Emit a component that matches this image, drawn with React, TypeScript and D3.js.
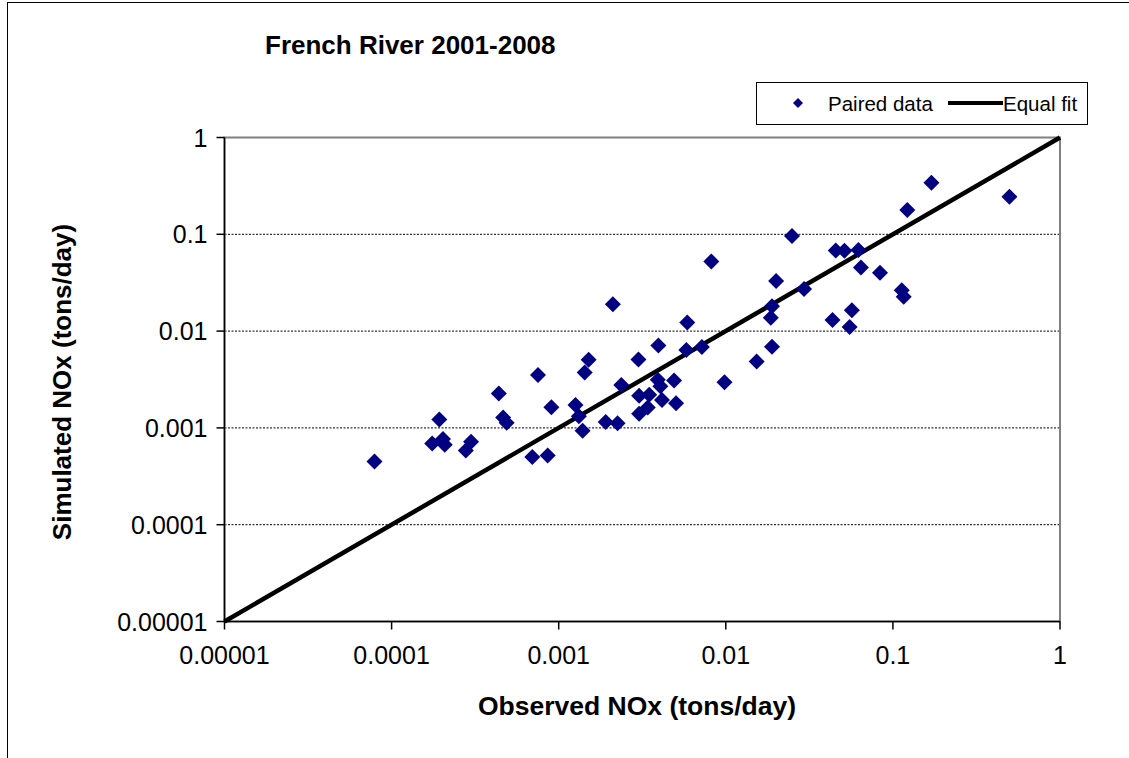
import * as d3 from 'd3'

const observed = [
  7.9e-5, 1.93e-4, 1.75e-4, 2.03e-4, 2.08e-4, 2.78e-4, 2.99e-4, 4.38e-4, 4.65e-4, 4.88e-4,
  7.52e-4, 9.04e-4, 6.95e-4, 8.59e-4, 2.11e-3, 5.88e-3, 1.51e-3, 1.43e-3, 3.0e-3, 3.95e-3,
  5.81e-3, 7.19e-3, 1.53e-2, 2.37e-3, 3.92e-3, 4.06e-3, 4.9e-3, 9.82e-3, 1.26e-3, 1.32e-3,
  1.39e-3, 3.03e-3, 3.48e-3, 3.41e-3, 3.03e-3, 4.15e-3, 5.04e-3, 1.91e-3, 2.25e-3, 2.49e-2,
  8.19e-3, 4.55e-2, 5.13e-2, 6.22e-2, 6.44e-2, 8.37e-2, 2.0e-2, 2.94e-2, 1.89e-2, 1.86e-2,
  5.68e-2, 4.35e-2, 5.51e-2, 1.89e-2, 0.170, 0.498, 0.122, 0.113, 0.116,
]
const simulated = [
  4.5e-4, 1.22e-3, 6.9e-4, 7.7e-4, 6.7e-4, 5.85e-4, 7.2e-4, 2.26e-3, 1.28e-3, 1.13e-3,
  3.53e-3, 1.63e-3, 5.0e-4, 5.2e-4, 1.89e-2, 1.23e-2, 5.07e-3, 3.74e-3, 5.1e-3, 7.1e-3,
  6.37e-3, 6.84e-3, 4.84e-3, 2.77e-3, 3.15e-3, 2.7e-3, 3.08e-3, 2.97e-3, 1.72e-3, 1.32e-3,
  9.37e-4, 2.15e-3, 2.2e-3, 1.62e-3, 1.4e-3, 1.94e-3, 1.8e-3, 1.15e-3, 1.12e-3, 9.6e-2,
  5.25e-2, 6.79e-2, 6.76e-2, 6.88e-2, 4.55e-2, 4.0e-2, 3.29e-2, 2.72e-2, 1.81e-2, 1.37e-2,
  1.64e-2, 1.3e-2, 1.1e-2, 6.88e-3, 0.341, 0.244, 0.178, 2.65e-2, 2.26e-2,
]
const tickValues = [0.00001, 0.0001, 0.001, 0.01, 0.1, 1]
const tickLabels = ['0.00001', '0.0001', '0.001', '0.01', '0.1', '1']
const equalFit = [0.00001, 1]

const W = 1129
const H = 758
const LEFT = 224.5
const RIGHT = 1060
const TOP = 137.5
const BOTTOM = 621.5

const NAVY = '#000080'
const FONT = 'Arial, "Liberation Sans", Helvetica, sans-serif'

export default function App() {
  const x = d3.scaleLog().domain([0.00001, 1]).range([LEFT, RIGHT])
  const y = d3.scaleLog().domain([0.00001, 1]).range([BOTTOM, TOP])

  const diamond = d3.symbol(d3.symbolSquare, 128)()
  const smallDiamond = d3.symbol(d3.symbolSquare, 50)()

  const fitLine = d3.line<number>().x((d) => x(d)).y((d) => y(d))

  const legY = 103

  return (
    <svg
      width={W}
      height={H}
      style={{ position: 'absolute', left: 0, top: 0, display: 'block', background: '#fff' }}
      fontFamily={FONT}
    >
      {/* chart frame (only left & top edges fall inside the picture) */}
      <rect x={7.5} y={2.5} width={W + 20} height={H + 20} fill="#fff" stroke="#000" strokeWidth={1} />

      {/* title */}
      <text x={265} y={54} fontSize={26} fontWeight={700} fill="#000">
        French River 2001-2008
      </text>

      {/* gridlines */}
      {tickValues.slice(1, -1).map((v) => (
        <line key={'g' + v} x1={LEFT} x2={RIGHT} y1={y(v)} y2={y(v)}
          stroke="#000" strokeWidth={1} strokeDasharray="2,1.5" />
      ))}

      {/* plot area border */}
      <rect x={LEFT} y={TOP} width={RIGHT - LEFT} height={BOTTOM - TOP}
        fill="none" stroke="#808080" strokeWidth={2} />

      {/* axes */}
      <line x1={LEFT} x2={LEFT} y1={TOP} y2={BOTTOM} stroke="#000" strokeWidth={1.5} />
      <line x1={LEFT} x2={RIGHT} y1={BOTTOM} y2={BOTTOM} stroke="#000" strokeWidth={1.5} />

      {/* y ticks + labels */}
      {tickValues.map((v, i) => (
        <g key={'y' + v}>
          <line x1={LEFT - 8} x2={LEFT} y1={y(v)} y2={y(v)} stroke="#000" strokeWidth={1.5} />
          <text x={LEFT - 17} y={y(v)} textAnchor="end" dominantBaseline="central"
            fontSize={25} fill="#000">
            {tickLabels[i]}
          </text>
        </g>
      ))}

      {/* x ticks + labels */}
      {tickValues.map((v, i) => (
        <g key={'x' + v}>
          <line x1={x(v)} x2={x(v)} y1={BOTTOM} y2={BOTTOM + 8} stroke="#000" strokeWidth={1.5} />
          <text x={x(v)} y={663.5} textAnchor="middle" fontSize={25} fill="#000">
            {tickLabels[i]}
          </text>
        </g>
      ))}

      {/* equal fit line */}
      <path d={fitLine(equalFit) ?? ''} stroke="#000" strokeWidth={4.5} fill="none" />

      {/* paired data */}
      {observed.map((o, i) => (
        <path key={'p' + i} d={diamond ?? ''}
          transform={`translate(${x(o)},${y(simulated[i])}) rotate(45)`}
          fill={NAVY} />
      ))}

      {/* axis titles */}
      <text x={637} y={715} textAnchor="middle" fontSize={26.5} fontWeight={700} fill="#000">
        Observed NOx (tons/day)
      </text>
      <text transform={`translate(71,382) rotate(-90)`} textAnchor="middle"
        fontSize={26} fontWeight={700} fill="#000">
        Simulated NOx (tons/day)
      </text>

      {/* legend */}
      <rect x={756.5} y={82.5} width={331} height={42} fill="#fff" stroke="#000" strokeWidth={1} />
      <path d={smallDiamond ?? ''} transform={`translate(798,${legY}) rotate(45)`} fill={NAVY} />
      <text x={828} y={legY} dominantBaseline="central" fontSize={20.5} fill="#000">Paired data</text>
      <line x1={948} x2={1003} y1={legY} y2={legY} stroke="#000" strokeWidth={4} />
      <text x={1003} y={legY} dominantBaseline="central" fontSize={20.5} fill="#000">Equal fit</text>
    </svg>
  )
}
